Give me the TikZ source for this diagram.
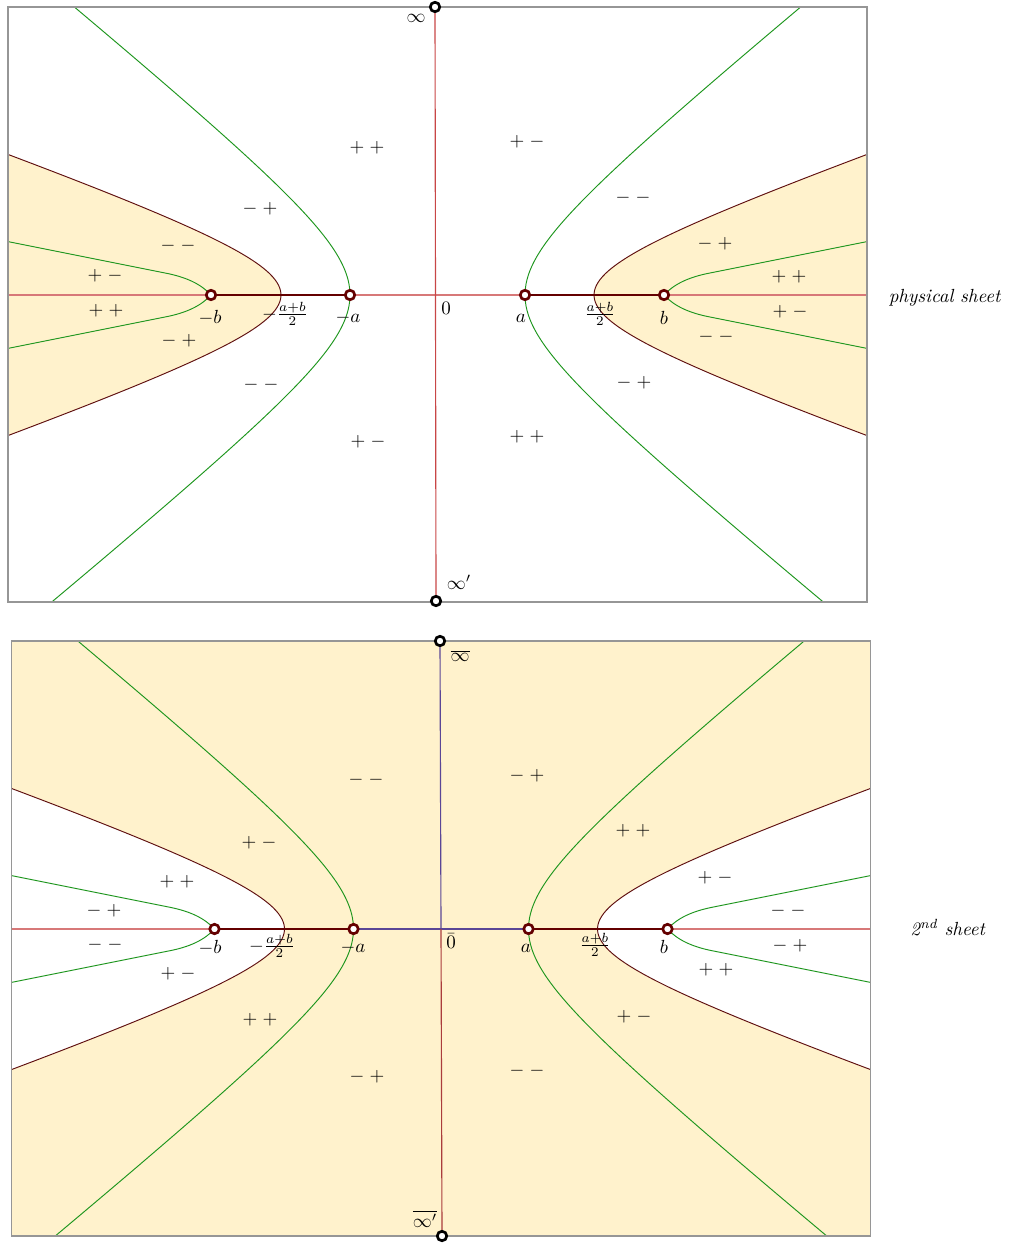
\documentclass[tikz,border=0pt]{standalone}
\usepackage{amsmath}
\definecolor{fillc}{RGB}{255,242,204}
\definecolor{axisred}{RGB}{215,120,120}
\definecolor{vred}{RGB}{200,70,70}
\definecolor{brownc}{RGB}{95,15,15}
\definecolor{greenc}{RGB}{30,150,30}
\definecolor{cutc}{RGB}{100,0,0}
\definecolor{boxc}{RGB}{150,150,150}
\definecolor{bluec}{RGB}{90,70,150}
\newcommand{\brownL}{plot[domain=-2:2,smooth,samples=80] ({437.5-156.5*cosh(\x)},{295+55*sinh(\x)})}
\newcommand{\greenL}{plot[domain=-2.4:2.4,smooth,samples=80] ({437.5-87.5*cosh(\x)},{295+71.5*sinh(\x)})}
\newcommand{\smallgreenL}{(211,295) .. controls (201,284) and (186,277) .. (165,273) -- (0,240)
  (211,295) .. controls (201,306) and (186,313) .. (165,317) -- (0,350)}
\tikzset{
  ptmark/.style={circle,draw=cutc,fill=white,line width=1.4pt,minimum size=5pt,inner sep=0pt},
  infmark/.style={circle,draw=black,fill=white,line width=1.4pt,minimum size=5pt,inner sep=0pt},
  sgn/.style={inner sep=0pt},
  lbl/.style={inner sep=0pt},
  boxline/.style={draw=boxc,line width=0.6pt},
  brownline/.style={draw=brownc,line width=0.5pt},
  greenline/.style={draw=greenc,line width=0.5pt},
  cutline/.style={draw=cutc,line width=1.5pt},
  axisline/.style={draw=axisred,line width=0.6pt},
  mirror/.style={shift={(875,0)},xscale=-1}
}
\begin{document}
\begin{tikzpicture}[x=0.5263pt,y=-0.5263pt]
\path[use as bounding box] (0,0) rectangle (1010,1243);

% ================= TOP PANEL =================
\begin{scope}
  \clip (8,7) rectangle (867,602);
  \fill[fillc] \brownL -- cycle;
  \begin{scope}[mirror] \fill[fillc] \brownL -- cycle; \end{scope}
  \draw[axisline] (8,295) -- (867,295);
  \draw[brownline] \brownL;
  \draw[greenline] \greenL;
  \draw[greenline] \smallgreenL;
  \begin{scope}[mirror]
    \draw[brownline] \brownL;
    \draw[greenline] \greenL;
    \draw[greenline] \smallgreenL;
  \end{scope}
\end{scope}
\coordinate (mb) at (211,295);
\coordinate (ma) at (350,295);
\coordinate (pa) at (525,295);
\coordinate (pb) at (664,295);
\draw[cutline] (mb) -- (ma);
\draw[cutline] (pa) -- (pb);
\draw[boxline] (8,7) rectangle (867,602);
\node[infmark] (inf) at (435,7) {};
\node[infmark] (infp) at (436,601) {};
\draw[draw=vred,line width=0.6pt] (inf) -- (infp);
\node[ptmark] (nmb) at (mb) {};
\node[ptmark] (nma) at (ma) {};
\node[ptmark] (npa) at (pa) {};
\node[ptmark] (npb) at (pb) {};

\node[lbl] (linf) at (416,18) {$\infty$};
\node[lbl] (linfp) at (459,582) {$\infty'$};
\node[lbl] (lmb) at (210,318) {$-b$};
\node[lbl] (lmab) at (285,314) {$-\frac{a+b}{2}$};
\node[lbl] (lma) at (348,318) {$-a$};
\node[lbl] (lzero) at (446,308) {$0$};
\node[lbl] (lpa) at (521,318) {$a$};
\node[lbl] (lpab) at (600,314) {$\frac{a+b}{2}$};
\node[lbl] (lpb) at (664,318) {$b$};
\node[lbl] (lphys) at (945,298) {\textit{physical sheet}};

\node[sgn] (t1) at (367,148) {$+\;+$};
\node[sgn] (t2) at (527,142) {$+\;-$};
\node[sgn] (t3) at (260,209) {$-\;+$};
\node[sgn] (t4) at (633,198) {$-\;-$};
\node[sgn] (t5) at (178,246) {$-\;-$};
\node[sgn] (t6) at (715,244) {$-\;+$};
\node[sgn] (t7) at (105,276) {$+\;-$};
\node[sgn] (t8) at (789,277) {$+\;+$};
\node[sgn] (t9) at (106,311) {$+\;+$};
\node[sgn] (t10) at (790,312) {$+\;-$};
\node[sgn] (t11) at (179,341) {$-\;+$};
\node[sgn] (t12) at (716,337) {$-\;-$};
\node[sgn] (t13) at (261,385) {$-\;-$};
\node[sgn] (t14) at (634,383) {$-\;+$};
\node[sgn] (t15) at (368,442) {$+\;-$};
\node[sgn] (t16) at (527,437) {$+\;+$};

% ================= BOTTOM PANEL =================
\begin{scope}[shift={(3.5,634)}]
  \begin{scope}
    \clip (8,7) rectangle (867,602);
    \fill[fillc] (8,7) rectangle (867,602);
    \fill[white] \brownL -- cycle;
    \begin{scope}[mirror] \fill[white] \brownL -- cycle; \end{scope}
    \draw[axisline] (8,295) -- (867,295);
    \draw[draw=bluec,line width=0.6pt] (350,295) -- (525,295);
    \draw[brownline] \brownL;
    \draw[greenline] \greenL;
    \draw[greenline] \smallgreenL;
    \begin{scope}[mirror]
      \draw[brownline] \brownL;
      \draw[greenline] \greenL;
      \draw[greenline] \smallgreenL;
    \end{scope}
  \end{scope}
  \coordinate (mb2) at (211,295);
  \coordinate (ma2) at (350,295);
  \coordinate (pa2) at (525,295);
  \coordinate (pb2) at (664,295);
  \draw[cutline] (mb2) -- (ma2);
  \draw[cutline] (pa2) -- (pb2);
  \draw[boxline] (8,7) rectangle (867,602);
\end{scope}
\node[infmark] (inf2) at (440,641) {};
\node[infmark] (infp2) at (442,1236) {};
\coordinate (zero2) at (441,929);
\draw[draw=bluec,line width=0.6pt] (inf2) -- (zero2);
\draw[draw=vred!85!black,line width=0.6pt] (zero2) -- (infp2);
\node[ptmark] (nmb2) at (mb2) {};
\node[ptmark] (nma2) at (ma2) {};
\node[ptmark] (npa2) at (pa2) {};
\node[ptmark] (npb2) at (pb2) {};

\node[lbl] (linf2) at (460,656) {$\overline{\infty}$};
\node[lbl] (linfp2) at (425,1219) {$\overline{\infty'}$};
\node[lbl] (lmb2) at (210,948) {$-b$};
\node[lbl] (lmab2) at (272,946) {$-\frac{a+b}{2}$};
\node[lbl] (lma2) at (353,948) {$-a$};
\node[lbl] (lzero2) at (451,941) {$\bar 0$};
\node[lbl] (lpa2) at (526,948) {$a$};
\node[lbl] (lpab2) at (595,945) {$\frac{a+b}{2}$};
\node[lbl] (lpb2) at (664,947) {$b$};
\node[lbl] (lsec) at (948,928) {\textit{2\textsuperscript{nd} sheet}};

\node[sgn] (u1) at (366,780) {$-\;-$};
\node[sgn] (u2) at (527,776) {$-\;+$};
\node[sgn] (u3) at (259,843) {$+\;-$};
\node[sgn] (u4) at (633,831) {$+\;+$};
\node[sgn] (u5) at (177,882) {$+\;+$};
\node[sgn] (u6) at (715,878) {$+\;-$};
\node[sgn] (u7) at (104,911) {$-\;+$};
\node[sgn] (u8) at (788,911) {$-\;-$};
\node[sgn] (u9) at (105,945) {$-\;-$};
\node[sgn] (u10) at (790,946) {$-\;+$};
\node[sgn] (u11) at (178,974) {$+\;-$};
\node[sgn] (u12) at (716,970) {$+\;+$};
\node[sgn] (u13) at (260,1020) {$+\;+$};
\node[sgn] (u14) at (634,1017) {$+\;-$};
\node[sgn] (u15) at (367,1077) {$-\;+$};
\node[sgn] (u16) at (527,1071) {$-\;-$};
\end{tikzpicture}
\end{document}
